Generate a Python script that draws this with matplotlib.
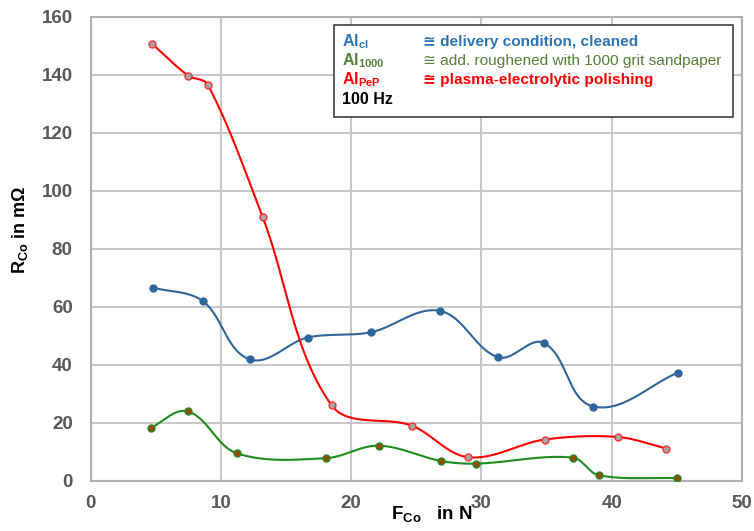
import numpy as np
import matplotlib
matplotlib.use('Agg')
import matplotlib.pyplot as plt

plt.rcParams['font.family'] = ['Liberation Sans', 'DejaVu Sans']
plt.rcParams['mathtext.fontset'] = 'custom'
plt.rcParams['mathtext.rm'] = 'Liberation Sans:bold'
plt.rcParams['mathtext.bf'] = 'Liberation Sans:bold'
plt.rcParams['mathtext.it'] = 'Liberation Sans:bold'

# contact resistance vs. contact force, 100 Hz
f_cl = [4.8, 8.6, 12.2, 16.65, 21.5, 26.8, 31.3, 34.8, 38.6, 45.1]
r_cl = [66.6, 62.0, 41.9, 49.4, 51.2, 58.6, 42.6, 47.5, 25.6, 37.3]

f_1000 = [4.6, 7.45, 11.2, 18.1, 22.1, 26.9, 29.6, 37.0, 39.0, 45.0]
r_1000 = [18.2, 23.9, 9.5, 7.8, 12.1, 6.8, 5.9, 8.0, 1.9, 0.9]

f_pep = [4.7, 7.47, 8.98, 13.2, 18.5, 24.65, 29.0, 34.85, 40.45, 44.2]
r_pep = [150.8, 139.8, 136.7, 91.0, 26.0, 19.0, 8.1, 14.2, 15.1, 11.1]

# rough px per unit, so the smoothing works in screen space
SX, SY = 13.0, 2.9


def smooth(x, y, n=30):
    # bezier smoothing, tangent length follows the segment length
    p = np.column_stack([np.array(x) * SX, np.array(y) * SY]).astype(float)
    m = len(p)
    tang = []
    for i in range(m):
        a = p[i - 1] if i > 0 else p[i]
        b = p[i + 1] if i < m - 1 else p[i]
        d = b - a
        tang.append(d / np.linalg.norm(d))
    pts = []
    for i in range(m - 1):
        p1, p2 = p[i], p[i + 1]
        L = np.linalg.norm(p2 - p1)
        c1 = p1 + tang[i] * L / 3
        c2 = p2 - tang[i + 1] * L / 3
        t = np.linspace(0, 1, n)[:, None]
        seg = ((1 - t) ** 3 * p1 + 3 * (1 - t) ** 2 * t * c1
               + 3 * (1 - t) * t ** 2 * c2 + t ** 3 * p2)
        pts.append(seg if i == 0 else seg[1:])
    s = np.vstack(pts)
    return s[:, 0] / SX, s[:, 1] / SY


fig = plt.figure(figsize=(7.54, 5.31), dpi=100)
ax = fig.add_axes([0.1203, 0.0947, 0.8637, 0.8733])

series = [
    (f_cl, r_cl, '#2f6699', '#2f6699', '#2f6699'),
    (f_1000, r_1000, '#1e8c1e', '#9a4a08', '#1e8c1e'),
    (f_pep, r_pep, '#ff0000', '#a6a6a6', '#ff3030'),
]
for x, y, lc, mfc, mec in series:
    sx, sy = smooth(x, y)
    ax.plot(sx, sy, color=lc, lw=1.5, zorder=3)
    ax.plot(x, y, 'o', ms=5, mfc=mfc, mec=mec, mew=1, zorder=4)

ax.set_xlim(0, 50)
ax.set_ylim(0, 160)
ax.set_xticks(range(0, 51, 10))
ax.set_yticks(range(0, 161, 20))
ax.grid(True, color='#c8c8c8', lw=1.5)
ax.set_axisbelow(True)
for s in ax.spines.values():
    s.set_color('#b0b0b0')
    s.set_linewidth(1.5)
ax.tick_params(axis='y', length=0, pad=13, labelsize=13.5, colors='#595959')
ax.tick_params(axis='x', length=0, pad=10, labelsize=13.5, colors='#595959')
for lab in ax.get_xticklabels() + ax.get_yticklabels():
    lab.set_fontweight('bold')

# axis titles
fig.text(432 / 754, 1 - 514 / 531, r'F$_{\mathrm{Co}}$   in N', fontsize=13.5,
         fontweight='bold', ha='center', va='center')
fig.text(20 / 754, 1 - 230 / 531, r'R$_{\mathrm{Co}}$ in m$\Omega$', fontsize=13,
         fontweight='bold', ha='center', va='center', rotation=90)

# legend box
box = plt.Rectangle((334 / 754, 1 - 117 / 531), 399 / 754, 92 / 531,
                    transform=fig.transFigure, fill=True, fc='white',
                    ec='#404040', lw=1.2, zorder=5)
fig.patches.append(box)
rows = [
    (r'Al$_{\mathrm{cl}}$', '\u2245 delivery condition, cleaned', '#2e75b6', 'bold'),
    (r'Al$_{\mathrm{1000}}$', '\u2245 add. roughened with 1000 grit sandpaper', '#548235', 'normal'),
    (r'Al$_{\mathrm{PeP}}$', '\u2245 plasma-electrolytic polishing', '#ff0000', 'bold'),
    ('100 Hz', '', '#000000', 'bold'),
]
for i, (lab, desc, c, w) in enumerate(rows):
    yy = 1 - (41.7 + i * 19.2) / 531
    fig.text(342 / 754, yy, lab, color=c, fontsize=11.5, fontweight='bold',
             va='center', zorder=6)
    if desc:
        fig.text(423 / 754, yy, desc, color=c, fontsize=11.1, fontweight=w,
                 va='center', zorder=6)

fig.savefig('out.png', dpi=100)
